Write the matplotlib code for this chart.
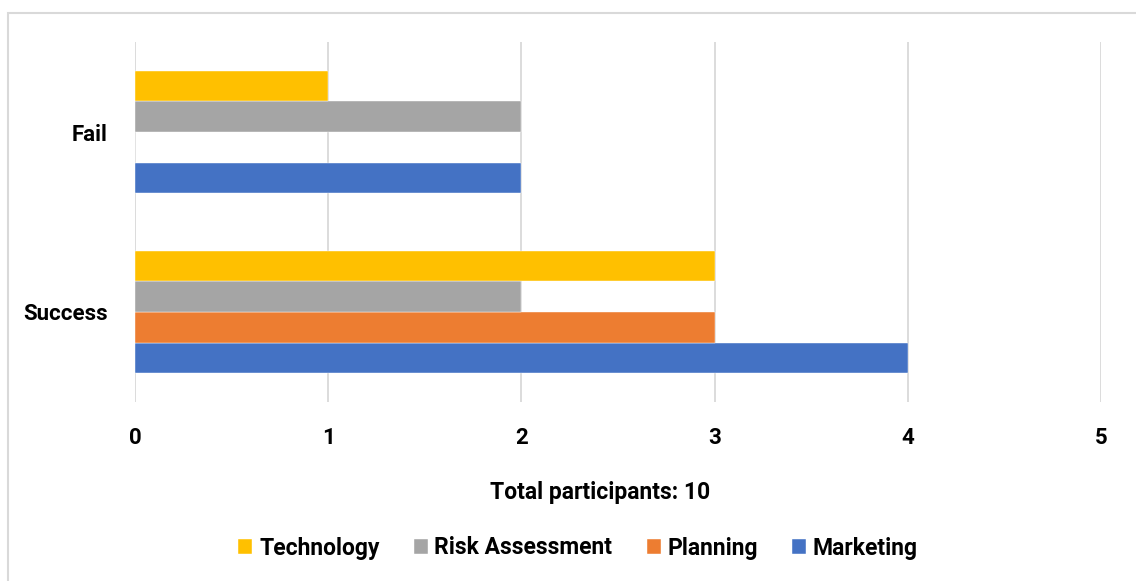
import numpy as np
import matplotlib.pyplot as plt
from matplotlib.patches import Rectangle

categories = ['Success', 'Fail']
series = ['Marketing', 'Planning', 'Risk Assessment', 'Technology']
values = {
    'Marketing': [4, 2],
    'Planning': [3, 0],
    'Risk Assessment': [2, 2],
    'Technology': [3, 1],
}
colors = {
    'Marketing': '#4472C4',
    'Planning': '#ED7D31',
    'Risk Assessment': '#A5A5A5',
    'Technology': '#FFC000',
}
x_ticks = [0, 1, 2, 3, 4, 5]
x_label = 'Total participants: 10'


def main():
    plt.rcParams['font.family'] = ['Roboto', 'DejaVu Sans']
    plt.rcParams['font.weight'] = 'bold'

    fig = plt.figure(figsize=(11.36, 5.81), dpi=100)
    ax = fig.add_axes([0.1188, 0.3081, 0.8504, 0.6196])

    # light frame round the chart (only top and left show in the reference)
    fig.patches.append(Rectangle((8 / 1136, -0.1), 1.2, 1 - 13 / 581 + 0.1,
                                 transform=fig.transFigure, fill=False,
                                 edgecolor='#d9d9d9', linewidth=1.5))

    h = 0.17
    y = np.arange(len(categories))
    for i, name in enumerate(series):
        offset = (i - 1.5) * h
        ax.barh(y + offset, values[name], height=h, color=colors[name],
                label=name, edgecolor='white', linewidth=0.3, zorder=3)

    ax.set_xlim(0, 5)
    ax.set_ylim(-0.5, 1.5)
    ax.set_xticks(x_ticks)
    ax.set_xticklabels([str(t) for t in x_ticks], fontweight='bold')
    ax.set_yticks(y)
    ax.set_yticklabels(categories, fontweight='bold')
    ax.tick_params(axis='both', length=0, labelsize=16)
    ax.tick_params(axis='x', pad=18)
    ax.tick_params(axis='y', pad=19.5)
    ax.grid(axis='x', color='#d9d9d9', linewidth=1.3, zorder=0)
    for s in ax.spines.values():
        s.set_visible(False)

    fig.text(0.528, 1 - 493 / 581, x_label, ha='center', va='center',
             fontsize=16.5, fontweight='bold')

    handles, labels = ax.get_legend_handles_labels()
    fig.legend(handles[::-1], labels[::-1], loc='center',
               bbox_to_anchor=(0.509, 1 - 548 / 581), ncol=4, frameon=False,
               prop={'size': 16.5, 'weight': 'bold'}, handlelength=0.6,
               handleheight=0.6, handletextpad=0.3, columnspacing=1.5)

    fig.savefig('out.png', dpi=100)


if __name__ == '__main__':
    main()
